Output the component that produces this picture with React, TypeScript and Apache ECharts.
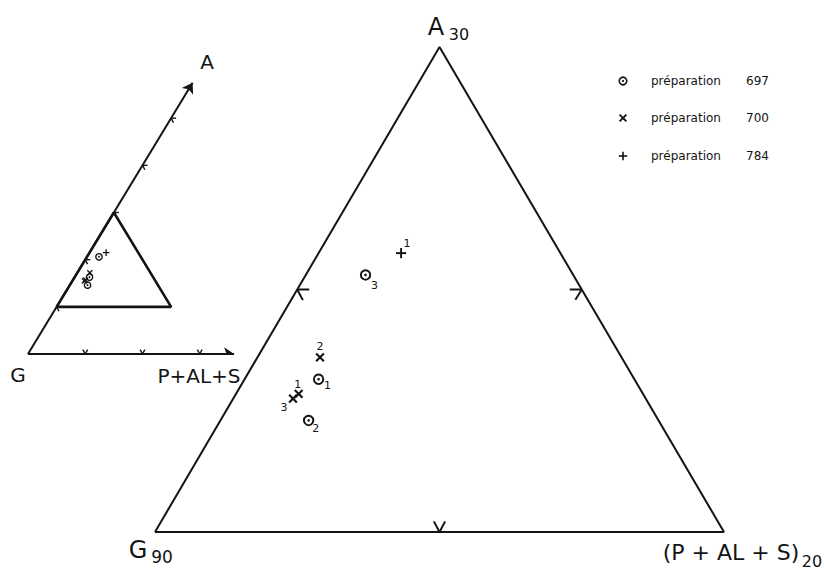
import React, { useEffect, useRef } from "react";
import * as echarts from "echarts";

// Compositions in % : A and (P+AL+S); G = 100 - A - P
const prep697A = [16.3, 14.6, 20.6];
const prep697P = [2.6, 3.1, 2.1];
const prep697Labels = ["1", "2", "3"];

const prep700A = [15.7, 17.2, 15.5];
const prep700P = [2.2, 2.2, 2.1];
const prep700Labels = ["1", "2", "3"];

const prep784A = [21.5];
const prep784P = [2.9];
const prep784Labels = ["1"];

const legendWord = "préparation";
const legendNumbers = ["697", "700", "784"];

// sub-triangle vertices: G90, A30, (P+AL+S)20
const subA = [10, 30, 10];
const subP = [0, 0, 20];
// mid-side ticks of the main triangle
const mainTickA = [20, 20, 10];
const mainTickP = [0, 10, 10];
const mainTickKinds = ["left", "right", "bottom"];
// inset axes
const insetATicks = [10, 20, 30, 40, 50];
const insetPTicks = [10, 20, 30];
const insetAMax = 57.5;
const insetPMax = 36;

const FONT = '"DejaVu Sans", "Liberation Sans", sans-serif';
const INK = "#141414";

const toXY = (a: number, p: number) => [p + a / 2, a];

const chevronAngles: Record<string, number[]> = {
  left: [0, 62],
  right: [180, 122],
  bottom: [-118, -62],
};

function chevronSeries(axis: number, As: number[], Ps: number[], kinds: string[], len: number, width: number) {
  return {
    type: "custom",
    xAxisIndex: axis,
    yAxisIndex: axis,
    silent: true,
    encode: { x: 0, y: 1 },
    data: As.map((a, i) => [...toXY(a, Ps[i]), i]),
    renderItem: (params: any, api: any) => {
      const c = api.coord([api.value(0), api.value(1)]);
      const k = kinds[api.value(2)];
      return {
        type: "group",
        children: chevronAngles[k].map((deg) => {
          const r = (deg * Math.PI) / 180;
          return {
            type: "line",
            shape: { x1: c[0], y1: c[1], x2: c[0] + len * Math.cos(r), y2: c[1] + len * Math.sin(r) },
            style: { stroke: INK, lineWidth: width },
          };
        }),
      };
    },
  };
}

function markerShapes(kind: string, cx: number, cy: number, s: number) {
  if (kind === "circle") {
    return [
      { type: "circle", shape: { cx, cy, r: s }, style: { fill: "none", stroke: INK, lineWidth: s * 0.42 } },
      { type: "circle", shape: { cx, cy, r: s * 0.28 }, style: { fill: INK } },
    ];
  }
  if (kind === "cross") {
    const h = s * 0.9;
    return [
      { type: "line", shape: { x1: cx - h, y1: cy - h, x2: cx + h, y2: cy + h }, style: { stroke: INK, lineWidth: s * 0.5 } },
      { type: "line", shape: { x1: cx - h, y1: cy + h, x2: cx + h, y2: cy - h }, style: { stroke: INK, lineWidth: s * 0.5 } },
    ];
  }
  const h = s * 1.1;
  return [
    { type: "line", shape: { x1: cx - h, y1: cy, x2: cx + h, y2: cy }, style: { stroke: INK, lineWidth: s * 0.42 } },
    { type: "line", shape: { x1: cx, y1: cy - h, x2: cx, y2: cy + h }, style: { stroke: INK, lineWidth: s * 0.42 } },
  ];
}

function markerSeries(
  name: string,
  kind: string,
  As: number[],
  Ps: number[],
  labels: string[],
  axis: number,
  size: number,
  offsets: number[][] | null
) {
  return {
    name,
    type: "custom",
    xAxisIndex: axis,
    yAxisIndex: axis,
    silent: true,
    encode: { x: 0, y: 1 },
    data: As.map((a, i) => [...toXY(a, Ps[i]), i]),
    renderItem: (params: any, api: any) => {
      const c = api.coord([api.value(0), api.value(1)]);
      const i = api.value(2);
      const children: any[] = markerShapes(kind, c[0], c[1], size);
      if (offsets) {
        children.push({
          type: "text",
          style: {
            text: labels[i],
            x: c[0] + offsets[i][0],
            y: c[1] + offsets[i][1],
            fill: INK,
            fontSize: 11,
            fontFamily: FONT,
            align: "center",
            verticalAlign: "middle",
          },
        });
      }
      return { type: "group", children };
    },
  };
}

const labelOffsets697 = [[9, 6], [7, 8], [9, 11]];
const labelOffsets700 = [[-1, -9], [0, -11], [-9, 9]];
const labelOffsets784 = [[6, -10]];

function triangleData(As: number[], Ps: number[]) {
  return [0, 1, 2, 0].map((i) => toXY(As[i], Ps[i]));
}

export default function App() {
  const ref = useRef<HTMLDivElement>(null);
  useEffect(() => {
    if (!ref.current) return;
    const chart = echarts.init(ref.current, null, { renderer: "svg" });
    const hiddenAxis = { type: "value", show: false, splitLine: { show: false } };
    const legendY = [81, 118, 156];
    const legendKinds = ["circle", "cross", "plus"];
    const txt = (text: string, x: number, y: number, size: number, align = "left", weight = "normal") => ({
      type: "text",
      x,
      y,
      silent: true,
      style: { text, fill: INK, fontSize: size, fontFamily: FONT, fontWeight: weight, align, verticalAlign: "middle" },
    });
    const option: any = {
      animation: false,
      backgroundColor: "#ffffff",
      grid: [
        { left: 155, top: 47, width: 569, height: 485 },
        { left: 28, top: 71, width: 229, height: 283 },
      ],
      xAxis: [
        { ...hiddenAxis, gridIndex: 0, min: 5, max: 25 },
        { ...hiddenAxis, gridIndex: 1, min: 0, max: 40 },
      ],
      yAxis: [
        { ...hiddenAxis, gridIndex: 0, min: 10, max: 30 },
        { ...hiddenAxis, gridIndex: 1, min: 0, max: 60 },
      ],
      series: [
        {
          type: "line",
          xAxisIndex: 0,
          yAxisIndex: 0,
          silent: true,
          symbol: "none",
          data: triangleData(subA, subP),
          lineStyle: { color: INK, width: 2 },
        },
        {
          type: "line",
          xAxisIndex: 1,
          yAxisIndex: 1,
          silent: true,
          symbol: "none",
          data: triangleData(subA, subP),
          lineStyle: { color: INK, width: 2.6 },
        },
        {
          type: "lines",
          coordinateSystem: "cartesian2d",
          xAxisIndex: 1,
          yAxisIndex: 1,
          silent: true,
          symbol: ["none", "arrow"],
          symbolSize: 10,
          lineStyle: { color: INK, width: 2, opacity: 1 },
          data: [
            { coords: [toXY(0, 0), toXY(insetAMax, 0)] },
            { coords: [toXY(0, 0), toXY(0, insetPMax)] },
          ],
        },
        chevronSeries(0, mainTickA, mainTickP, mainTickKinds, 12, 2),
        chevronSeries(1, insetATicks, insetATicks.map(() => 0), insetATicks.map(() => "left"), 5, 1.4),
        chevronSeries(1, insetPTicks.map(() => 0), insetPTicks, insetPTicks.map(() => "bottom"), 5, 1.4),
        markerSeries("préparation 697", "circle", prep697A, prep697P, prep697Labels, 0, 4.7, labelOffsets697),
        markerSeries("préparation 700", "cross", prep700A, prep700P, prep700Labels, 0, 4.3, labelOffsets700),
        markerSeries("préparation 784", "plus", prep784A, prep784P, prep784Labels, 0, 4.6, labelOffsets784),
        markerSeries("i697", "circle", prep697A, prep697P, prep697Labels, 1, 3.2, null),
        markerSeries("i700", "cross", prep700A, prep700P, prep700Labels, 1, 2.8, null),
        markerSeries("i784", "plus", prep784A, prep784P, prep784Labels, 1, 3, null),
      ],
      graphic: [
        // vertex labels of the main triangle
        txt("A", 436, 27, 24, "center"),
        txt("30", 459, 34, 16, "center"),
        txt("G", 138, 550, 24, "center"),
        txt("90", 162, 557, 17, "center"),
        txt("(P + AL + S)", 731, 552, 22, "center"),
        txt("20", 812, 561, 16, "center"),
        // inset labels
        txt("A", 207, 62, 20, "center"),
        txt("G", 18, 375, 20, "center"),
        txt("P+AL+S", 199, 376, 20, "center"),
        // legend
        ...legendNumbers.flatMap((num, i) => [
          {
            type: "group",
            silent: true,
            children: markerShapes(legendKinds[i], 623, legendY[i], 3.8),
          },
          txt(legendWord, 651, legendY[i], 12),
          txt(num, 746, legendY[i], 12),
        ]),
      ],
    };
    chart.setOption(option);
    return () => chart.dispose();
  }, []);
  return (
    <div
      ref={ref}
      style={{ position: "fixed", left: 0, top: 0, width: 824, height: 572, background: "#fff" }}
    />
  );
}
